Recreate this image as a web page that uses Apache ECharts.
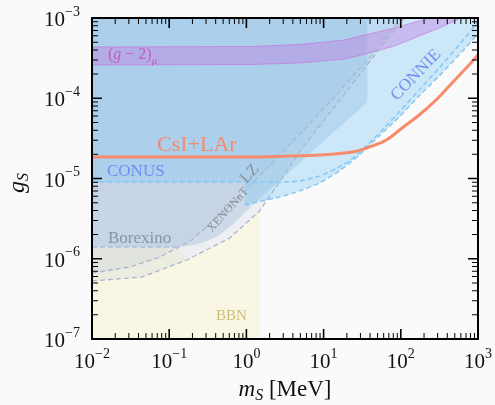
<!DOCTYPE html>
<html>
<head>
<meta charset="utf-8">
<script src="https://cdn.jsdelivr.net/npm/echarts@6/dist/echarts.min.js"></script>
<style>
  html, body { margin: 0; padding: 0; background: #fafafa; }
  #chart { width: 495px; height: 405px; }
</style>
</head>
<body>
<div id="chart"></div>
<script>
// Limits on a light scalar mediator: coupling g_S versus mass m_S (MeV).
// Every curve is stored as a list of masses and a list of couplings.

const massDecades = [0.01, 0.1, 1, 10, 100, 1000];
const couplingDecades = [1e-7, 1e-6, 1e-5, 1e-4, 1e-3];

// CsI+LAr (COHERENT) sensitivity
const csiLArMass = [0.01, 1.1, 3.6, 8.8, 23.6, 39, 65, 104, 173, 286, 461, 765, 1000];
const csiLArG = [1.85e-5, 1.85e-5, 1.91e-5, 1.96e-5, 2.14e-5, 2.47e-5, 3.02e-5, 4.26e-5, 6.18e-5, 9.5e-5, 1.55e-4, 2.6e-4, 3.46e-4];

// CONUS
const conusMass = [0.01, 3.1, 4.9, 8.8, 15.1, 25, 39, 61, 95, 173, 313, 568, 1000];
const conusG = [9.05e-6, 9.05e-6, 9.3e-6, 1.07e-5, 1.35e-5, 1.85e-5, 2.77e-5, 4.26e-5, 6.74e-5, 1.27e-4, 2.38e-4, 4.61e-4, 8.92e-4];

// CONNIE
const connieMass = [0.95, 1.57, 2.7, 4.9, 8.8, 16, 29, 52.6, 95, 173, 313, 568, 1000];
const connieG = [4.67e-6, 5.24e-6, 5.88e-6, 6.99e-6, 8.79e-6, 1.24e-5, 1.96e-5, 3.39e-5, 5.84e-5, 1.07e-4, 1.89e-4, 3.46e-4, 6.32e-4];

// Borexino
const borexinoMass = [0.01, 0.133, 0.196, 0.288, 0.45, 0.607, 0.817, 1.1, 1.72, 2.69, 4.87, 8.83, 16, 25, 36.8, 36.8];
const borexinoG = [1.4e-6, 1.4e-6, 1.46e-6, 1.62e-6, 1.98e-6, 2.49e-6, 3.22e-6, 4.29e-6, 6.41e-6, 9.31e-6, 1.56e-5, 2.61e-5, 4.38e-5, 6.36e-5, 8.98e-5, 1e-3];

// LZ
const lzMass = [0.01, 0.031, 0.0756, 0.133, 0.196, 0.334, 0.607, 1.07, 1.99, 3.61, 13, 39.1, 101];
const lzG = [6.64e-7, 7.89e-7, 1.05e-6, 1.4e-6, 1.71e-6, 2.71e-6, 4.54e-6, 7.83e-6, 1.43e-5, 2.61e-5, 9.79e-5, 3.17e-4, 1e-3];

// XENONnT
const xenonMass = [0.01, 0.0443, 0.169, 0.607, 1.48, 2.69, 4.87, 8.83, 17.5, 39.1, 111];
const xenonG = [5.28e-7, 5.92e-7, 9.65e-7, 1.81e-6, 3.94e-6, 9.05e-6, 2.14e-5, 4.51e-5, 1.04e-4, 2.83e-4, 1e-3];

// (g-2)_mu preferred band
const gm2UpperMass = [0.01, 1.1, 4.87, 18.6, 39.1, 82.2, 173, 233];
const gm2UpperG = [4.35e-4, 4.41e-4, 4.67e-4, 5.32e-4, 6.32e-4, 7.5e-4, 9.18e-4, 1e-3];
const gm2LowerMass = [0.01, 1.1, 4.87, 18.6, 39.1, 82.2, 173, 364, 603];
const gm2LowerG = [2.6e-4, 2.63e-4, 2.75e-4, 3.08e-4, 3.66e-4, 4.48e-4, 5.97e-4, 7.95e-4, 1e-3];

// BBN bound: masses below this value are excluded
const bbnMassLimit = [1.5];

const MIN_M = massDecades[0], MAX_M = massDecades[massDecades.length - 1];
const MIN_G = couplingDecades[0], MAX_G = couplingDecades[couplingDecades.length - 1];

const CHART_W = 495, CHART_H = 405;
const GRID = { left: 92, right: 16, top: 18, bottom: 66 };

const zip = (xs, ys) => xs.map((x, i) => [x, ys[i]]);
const minorValues = (decades) => {
  const out = [];
  decades.slice(0, -1).forEach(d => {
    for (let k = 2; k <= 9; k++) out.push(Number((k * d).toPrecision(6)));
  });
  return out;
};

const csiLAr = zip(csiLArMass, csiLArG);
const conus = zip(conusMass, conusG);
const connie = zip(connieMass, connieG);
const borexino = zip(borexinoMass, borexinoG);
const lz = zip(lzMass, lzG);
const xenon = zip(xenonMass, xenonG);
const gm2Upper = zip(gm2UpperMass, gm2UpperG);
const gm2Lower = zip(gm2LowerMass, gm2LowerG);

// Regions excluded above a curve are closed along the top of the plot.
const closeToTop = (pts) => pts.concat([[pts[pts.length - 1][0], MAX_G], [MIN_M, MAX_G]]);

// BBN shading is only left visible underneath the direct-detection limits.
const borexinoFlat = borexino.slice(0, 2);
const xenonUnderBBN = xenon.filter(p => p[0] > borexinoFlat[1][0] && p[0] <= bbnMassLimit[0]).reverse();
const bbnPoly = [[MIN_M, MIN_G], [bbnMassLimit[0], MIN_G], [bbnMassLimit[0], xenonUnderBBN[0][1]]]
  .concat(xenonUnderBBN, [borexinoFlat[1], borexinoFlat[0]]);
const xenonPoly = closeToTop(xenon);
const lzPoly = closeToTop(lz);
const borexinoPoly = closeToTop(borexino);
const conusPoly = closeToTop(conus);
// CONNIE is shaded between its own limit and the CONUS limit
const conusAbove = conus.filter(p => p[0] >= connie[0][0]).reverse();
const conniePoly = connie.concat(conusAbove, [[connie[0][0], conus[0][1]]]);
const gm2Poly = gm2Upper.concat(gm2Lower.slice().reverse());

const serif = "'Liberation Serif', 'DejaVu Serif', serif";

function fillSeries(points, color, z, stroke) {
  return {
    type: 'custom', z: z, silent: true, clip: true,
    data: points,
    renderItem: function (params, api) {
      if (params.dataIndex !== 0) return null;
      return {
        type: 'polygon',
        shape: { points: points.map(p => api.coord(p)) },
        style: stroke ? { fill: color, stroke: stroke, lineWidth: 1 } : { fill: color }
      };
    }
  };
}

function lineSeries(points, color, z, width, dashed, smooth) {
  return {
    type: 'line', z: z, silent: true, data: points,
    showSymbol: false, symbol: 'none', smooth: smooth || false,
    lineStyle: { color: color, width: width, type: dashed ? [5, 3] : 'solid', cap: 'butt' }
  };
}

// Inward ticks along one edge, as a single comb-shaped outline whose teeth are
// the tick marks; the comb's back runs along the frame line itself.
// Tick sizes in pixels are turned into factors on the log axes.
const pxPerDecadeX = (CHART_W - GRID.left - GRID.right) / Math.log10(MAX_M / MIN_M);
const pxPerDecadeY = (CHART_H - GRID.top - GRID.bottom) / Math.log10(MAX_G / MIN_G);
const fx = px => Math.pow(10, px / pxPerDecadeX);
const fy = px => Math.pow(10, px / pxPerDecadeY);

function combX(values, edgeG, inward, len, width) {
  const pts = [];
  values.forEach(v => {
    const a = v / fx(width / 2), b = v * fx(width / 2);
    const tip = inward > 0 ? edgeG * fy(len) : edgeG / fy(len);
    pts.push([a, edgeG], [a, tip], [b, tip], [b, edgeG]);
  });
  return pts;
}

function combY(values, edgeM, inward, len, width) {
  const pts = [];
  values.forEach(v => {
    const a = v / fy(width / 2), b = v * fy(width / 2);
    const tip = inward > 0 ? edgeM * fx(len) : edgeM / fx(len);
    pts.push([edgeM, a], [tip, a], [tip, b], [edgeM, b]);
  });
  return pts;
}

const minorMass = minorValues(massDecades);
const minorCoupling = minorValues(couplingDecades);
const tickCombs = [
  combX(massDecades, MIN_G, 1, 10, 1.6),
  combX(minorMass, MIN_G, 1, 6, 1),
  combX(massDecades, MAX_G, -1, 10, 1.6),
  combX(minorMass, MAX_G, -1, 6, 1),
  combY(couplingDecades, MIN_M, 1, 10, 1.6),
  combY(minorCoupling, MIN_M, 1, 6, 1),
  combY(couplingDecades, MAX_M, -1, 10, 1.6),
  combY(minorCoupling, MAX_M, -1, 6, 1)
];

function powLabel(v) {
  const e = Math.round(Math.log10(v));
  return '{b|10}{s|' + (e < 0 ? '\u2212' + (-e) : String(e)) + '}';
}

const tickRich = {
  b: { fontSize: 21, fontFamily: serif, color: '#111', lineHeight: 26, verticalAlign: 'bottom' },
  s: { fontSize: 14, fontFamily: serif, color: '#111', lineHeight: 14, verticalAlign: 'top' }
};

function makeAxis(kind, position, showLabels) {
  const decades = kind === 'x' ? massDecades : couplingDecades;
  return {
    type: 'log', logBase: 10, position: position, z: 10,
    min: decades[0], max: decades[decades.length - 1],
    axisLine: { show: true, onZero: false, lineStyle: { color: '#000', width: 2 } },
    axisTick: { show: false },
    axisLabel: {
      show: showLabels,
      customValues: decades,
      formatter: powLabel,
      rich: tickRich,
      margin: kind === 'x' ? 8 : 12
    },
    splitLine: { show: false },
    minorTick: { show: false }
  };
}

function label(text, x, y, size, color, opts) {
  opts = opts || {};
  return {
    type: 'text', x: x, y: y, z: 100, silent: true,
    rotation: (opts.angle || 0) * Math.PI / 180,
    style: {
      text: text, fill: color,
      font: size + 'px ' + serif,
      fontSize: size, fontFamily: serif,
      align: opts.align || 'left', textAlign: opts.align || 'left',
      verticalAlign: 'middle', textVerticalAlign: 'middle',
      rich: opts.rich
    }
  };
}

const labels = [
  label('{p|(}{g|g}{p| \u2212 2)}{u|\u03bc}', 108, 57, 16, '#c95ac0', {
    rich: {
      p: { fontSize: 16, fontFamily: serif, color: '#c95ac0', lineHeight: 20, verticalAlign: 'top' },
      g: { fontSize: 16, fontFamily: serif, fontStyle: 'italic', color: '#c95ac0', lineHeight: 20, verticalAlign: 'top' },
      u: { fontSize: 11, fontFamily: serif, fontStyle: 'italic', color: '#c95ac0', lineHeight: 11, verticalAlign: 'bottom' }
    }
  }),
  label('CsI+LAr', 157, 145, 22, '#f48b6c'),
  label('CONUS', 107, 172, 17, '#6e8ff0'),
  label('Borexino', 108, 239, 17, '#8693a8'),
  label('BBN', 216, 316, 15, '#c9bd77'),
  label('LZ', 250, 174, 16, '#8b8e9a', { align: 'center', angle: 48 }),
  label('XENONnT', 228, 210, 12, '#8b8e9a', { align: 'center', angle: 48 }),
  label('CONNIE', 416, 75, 17, '#6e8ff0', { align: 'center', angle: 46 }),
  label('{m|m}{s|S}{t| [MeV]}', 285, 391, 23, '#111', {
    align: 'center',
    rich: {
      m: { fontSize: 23, fontFamily: serif, fontStyle: 'italic', color: '#111', lineHeight: 26, verticalAlign: 'top' },
      s: { fontSize: 16, fontFamily: serif, fontStyle: 'italic', color: '#111', lineHeight: 16, verticalAlign: 'bottom' },
      t: { fontSize: 23, fontFamily: serif, color: '#111', lineHeight: 26, verticalAlign: 'top' }
    }
  }),
  label('{g|g}{s|S}', 19, 183, 24, '#111', {
    align: 'center', angle: 90,
    rich: {
      g: { fontSize: 24, fontFamily: serif, fontStyle: 'italic', color: '#111', lineHeight: 26, verticalAlign: 'top' },
      s: { fontSize: 16, fontFamily: serif, fontStyle: 'italic', color: '#111', lineHeight: 16, verticalAlign: 'bottom' }
    }
  })
];

const chart = echarts.init(document.getElementById('chart'), null, { renderer: 'canvas' });

chart.setOption({
  animation: false,
  backgroundColor: '#fafafa',
  textStyle: { fontFamily: serif },
  grid: GRID,
  xAxis: [makeAxis('x', 'bottom', true), makeAxis('x', 'top', false)],
  yAxis: [makeAxis('y', 'left', true), makeAxis('y', 'right', false)],
  series: [
    fillSeries(bbnPoly, 'rgba(245,240,160,0.24)', 1),
    fillSeries(xenonPoly, 'rgba(165,175,205,0.14)', 2),
    fillSeries(lzPoly, 'rgba(165,175,205,0.14)', 2),
    fillSeries(borexinoPoly, 'rgba(153,179,215,0.36)', 2),
    fillSeries(conniePoly, 'rgba(130,200,245,0.38)', 2),
    fillSeries(conusPoly, 'rgba(130,200,245,0.38)', 2),
    fillSeries(gm2Poly, 'rgba(195,110,225,0.36)', 3, 'rgba(200,100,215,0.55)'),
    lineSeries(xenon, '#a9b6d2', 4, 1.3, true),
    lineSeries(lz, '#a9b6d2', 4, 1.3, true),
    lineSeries(borexinoFlat, '#a6bfe6', 4, 1.4, true),
    lineSeries(connie, '#86c8f2', 4, 1.5, true, 0.2),
    lineSeries(conus, '#86c8f2', 4, 1.5, true, 0.2),
    lineSeries(csiLAr, '#f98b6d', 5, 3, false, 0.35)
  ].concat(tickCombs.map(c => fillSeries(c, '#000', 6))),
  graphic: labels
});
</script>
</body>
</html>
